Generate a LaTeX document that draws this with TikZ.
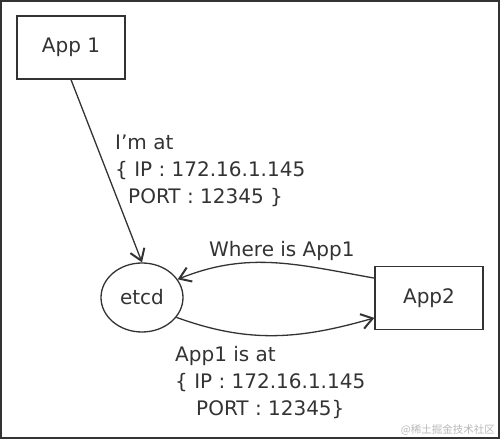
\documentclass[tikz,border=0pt]{standalone}
\usepackage{fontspec}
\setmainfont{DejaVu Sans}
\newfontfamily\cjkfont{Noto Sans CJK SC}
\usetikzlibrary{arrows.meta,positioning,shapes.geometric}
\definecolor{EdgeGrey}{HTML}{333333}
\definecolor{MarkGrey}{HTML}{B8B8B8}

\begin{document}
\begin{tikzpicture}[
  x=1pt,y=1pt,
  appbox/.style={draw=EdgeGrey,line width=1.3pt,minimum width=108pt,minimum height=63pt,
    inner sep=0pt,font=\fontsize{20}{24}\selectfont,text=EdgeGrey},
  store/.style={ellipse,draw=EdgeGrey,line width=1.3pt,minimum width=82pt,minimum height=69pt,
    inner sep=0pt,font=\fontsize{20}{24}\selectfont,text=EdgeGrey},
  msg/.style={inner sep=0pt,align=left,font=\fontsize{20}{26.8}\selectfont,text=EdgeGrey},
  arr/.style={-{Straight Barb[length=11pt,width=15pt,line width=2pt]},line width=1.3pt,draw=EdgeGrey}
]
\useasboundingbox (0,0) rectangle (500,439);
\draw[EdgeGrey,line width=2pt] (1,1.5) rectangle (498.5,438);
\node[appbox] (app1) at (71,391.5) {App 1};
\node[store] (etcd) at (142,141.5) {etcd};
\node[appbox] (app2) at (429,141) {App2};
\draw[arr] (app1.south) -- (etcd.north);
\draw[arr] (app2.160) to[out=170,in=22] (etcd.27);
\draw[arr] (etcd.-30) to[out=-20,in=196] (app2.200);
\node[msg,anchor=north west] (register) at (115,304) {I'm at\\\{ IP : 172.16.1.145\\\hspace*{13pt}PORT : 12345 \}};
\node[msg,anchor=base west] (query) at (209,182) {Where is App1};
\node[msg,anchor=north west] (answer) at (175,92.5) {App1 is at\\\{ IP : 172.16.1.145\\\hspace*{21pt}PORT : 12345\}};
\node[anchor=base east,inner sep=0pt,font=\cjkfont\fontsize{10.5}{12}\selectfont,text=MarkGrey] (mark) at (495,6) {@稀土掘金技术社区};
\end{tikzpicture}
\end{document}
